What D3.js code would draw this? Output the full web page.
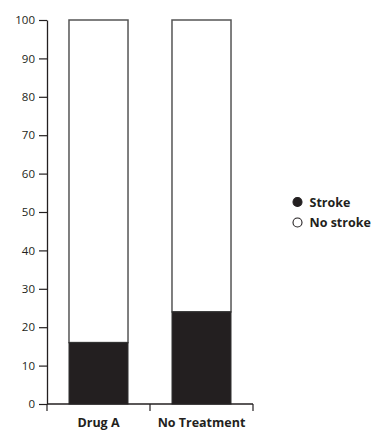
<!DOCTYPE html>
<html><head><meta charset="utf-8">
<script src="https://cdn.jsdelivr.net/npm/d3@7"></script>
<style>body{margin:0;background:#fff}svg{display:block}text{font-family:"Open Sans",sans-serif}</style>
</head><body>
<svg id="c" width="372" height="431"></svg>
<script>
const categories = ["Drug A", "No Treatment"];
const strokeValues = [16, 24];
const noStrokeValues = [84, 76];
const seriesNames = ["Stroke", "No stroke"];
const yTicks = [0,10,20,30,40,50,60,70,80,90,100];

const svg = d3.select("#c");
const x = d3.scaleBand().domain(categories).range([47,253]).paddingInner(0.427).paddingOuter(0.2135);
const y = d3.scaleLinear().domain([0,100]).range([404,20]);
const ink = "#231f20";
const font = "'Open Sans',sans-serif";

// bars
const data = categories.map((c,i)=>({c, s:strokeValues[i], n:noStrokeValues[i]}));
const g = svg.append("g");
g.selectAll(".ns").data(data).join("rect")
  .attr("x", d=>x(d.c)).attr("width", x.bandwidth())
  .attr("y", d=>y(d.s+d.n)).attr("height", d=>y(d.s)-y(d.s+d.n))
  .attr("fill","#fff").attr("stroke","#555").attr("stroke-width",1.5);
g.selectAll(".s").data(data).join("rect")
  .attr("x", d=>x(d.c)).attr("width", x.bandwidth())
  .attr("y", d=>y(d.s)).attr("height", d=>y(0)-y(d.s))
  .attr("fill",ink).attr("stroke","#333").attr("stroke-width",1);

// y axis
const ya = svg.append("g").attr("transform","translate(47,0)")
  .call(d3.axisLeft(y).tickValues(yTicks).tickSize(8).tickPadding(4).tickSizeOuter(0));
ya.select(".domain").attr("stroke",ink).attr("stroke-width",1.3);
ya.selectAll(".tick line").attr("stroke",ink).attr("stroke-width",1.2);
ya.selectAll(".tick text").attr("font-size",11.5).attr("fill",ink).attr("font-family",font);

// x axis
const xa = svg.append("g");
xa.append("line").attr("x1",x.range()[0]).attr("x2",x.range()[1]).attr("y1",y(0)).attr("y2",y(0))
  .attr("stroke",ink).attr("stroke-width",1.3);
const bounds = [x.range()[0]].concat(categories.map(c=>x(c)+x.bandwidth()+x.step()*x.paddingInner()/2));
bounds[bounds.length-1] = x.range()[1];
xa.selectAll(".bt").data(bounds).join("line")
  .attr("x1",d=>d).attr("x2",d=>d).attr("y1",y(0)).attr("y2",y(0)+7)
  .attr("stroke",ink).attr("stroke-width",1.2);
xa.selectAll(".lab").data(categories).join("text")
  .attr("x",d=>x(d)+x.bandwidth()/2).attr("y",427)
  .attr("text-anchor","middle").attr("font-size",12.5).attr("font-weight","bold").attr("fill",ink)
  .attr("font-family",font).text(d=>d);

// legend
const lg = svg.append("g");
seriesNames.forEach((n,i)=>{
  const cy = 202 + i*20.5;
  lg.append("circle").attr("cx",297.5).attr("cy",cy).attr("r",4.5)
    .attr("fill", i===0?ink:"#fff").attr("stroke",ink).attr("stroke-width",1.1);
  lg.append("text").attr("x",309.5).attr("y",cy+4.5).attr("font-size",12.5).attr("font-weight","bold")
    .attr("fill",ink).attr("font-family",font).text(n);
});
</script>
</body></html>
